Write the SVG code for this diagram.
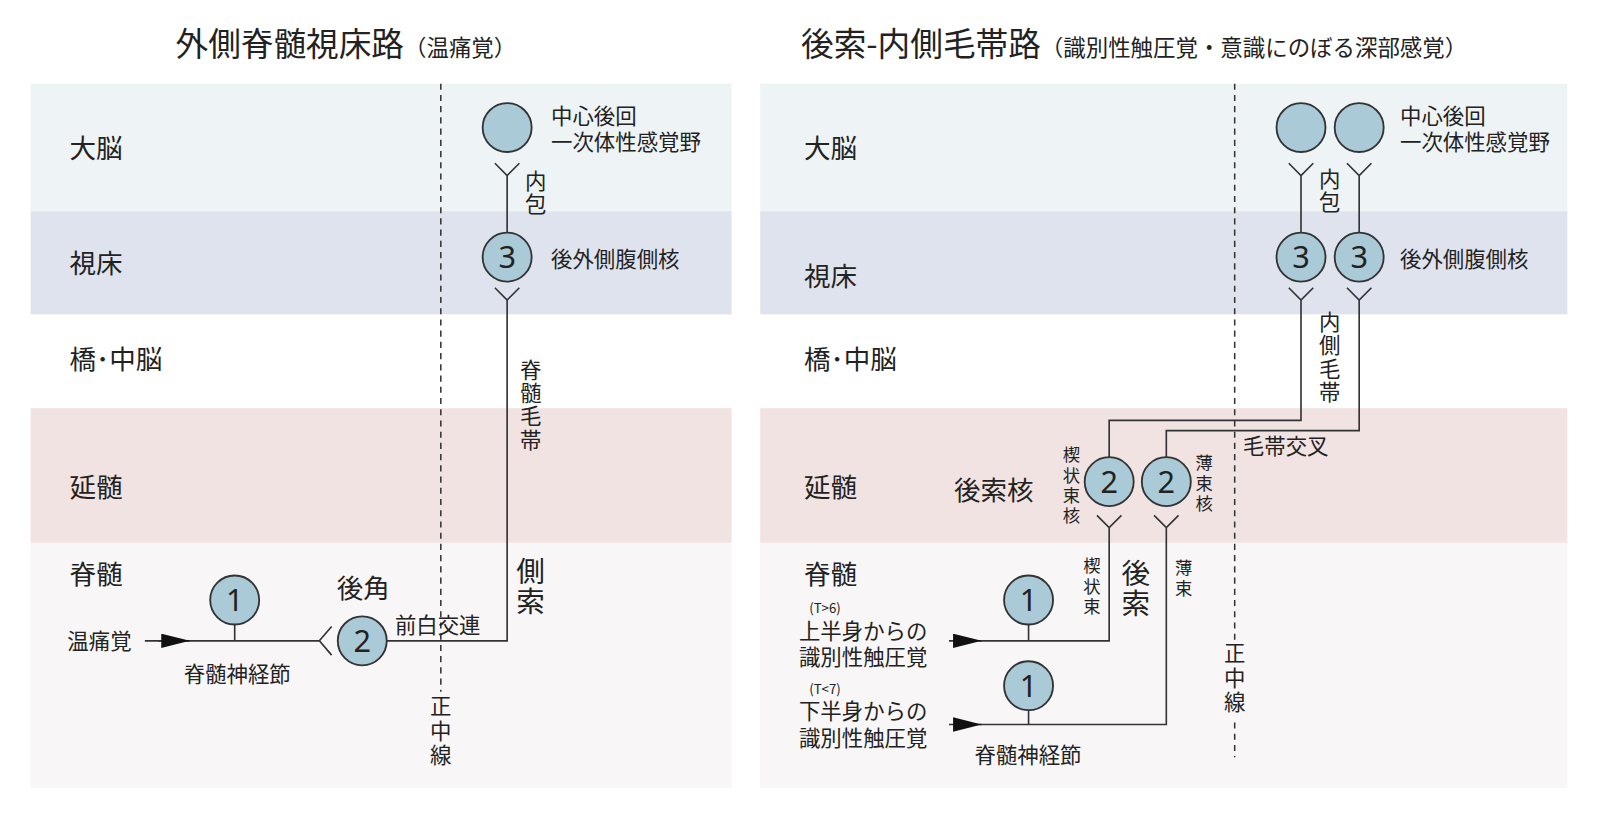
<svg xmlns="http://www.w3.org/2000/svg" width="1600" height="823" viewBox="0 0 1600 823">
<style>
text{font-family:"Noto Sans CJK JP","Noto Sans",sans-serif;fill:#222}
.c{fill:#a9cad6;stroke:#333;stroke-width:1.8}
.n{font-size:30px;text-anchor:middle;font-family:"Noto Sans","Noto Sans CJK JP",sans-serif}
.l{fill:none;stroke:#333;stroke-width:1.6}
.d{fill:none;stroke:#333;stroke-width:1.5;stroke-dasharray:6 5}
.b{font-size:26px}.m{font-size:21px}.s{font-size:17px}.t{font-size:28px}
.v{text-anchor:middle}
</style>
<defs><marker id="ar" markerWidth="30" markerHeight="14" refX="28" refY="7" orient="auto" markerUnits="userSpaceOnUse"><path d="M0,0 L28,7 L0,14 Z" fill="#111"/></marker></defs>
<rect width="1600" height="823" fill="#fff"/>
<g transform="scale(1.0204)">
<g id="bands">
<rect x="30" y="82" width="687" height="125" fill="#eef3f5"/><rect x="30" y="207" width="687" height="101" fill="#dfe3ee"/><rect x="30" y="400" width="687" height="132" fill="#f0e3e1"/><rect x="30" y="532" width="687" height="240" fill="#f8f6f6"/>
<rect x="745" y="82" width="791" height="125" fill="#eef3f5"/><rect x="745" y="207" width="791" height="101" fill="#dfe3ee"/><rect x="745" y="400" width="791" height="132" fill="#f0e3e1"/><rect x="745" y="532" width="791" height="240" fill="#f8f6f6"/>
</g>
<g id="titles">
<text x="172" y="55" style="font-size:32px">外側脊髄視床路<tspan style="font-size:22px">（温痛覚）</tspan></text>
<text x="785" y="55" style="font-size:32px">後索-内側毛帯路<tspan style="font-size:22px">（識別性触圧覚・意識にのぼる深部感覚）</tspan></text>
</g>
<g id="levels" class="b">
<text x="68" y="155">大脳</text><text x="68" y="268">視床</text><text x="68" y="362">橋･中脳</text><text x="68" y="487">延髄</text><text x="68" y="572">脊髄</text>
<text x="788" y="155">大脳</text><text x="788" y="280">視床</text><text x="788" y="362">橋･中脳</text><text x="788" y="487">延髄</text><text x="788" y="572">脊髄</text>
</g>
<g id="connectors">
<line class="d" x1="432" y1="82" x2="432" y2="678"/>
<line class="d" x1="1210" y1="82" x2="1210" y2="628"/><line class="d" x1="1210" y1="708" x2="1210" y2="742"/>
<path class="l" d="M485,160 L497,172 L509,160 M497,172 V228 M485,282 L497,294 L509,282 M497,294 V628 H379 M325,614 L313,628 L325,642 M313,628 H155 M230,612 V628"/>
<line class="l" x1="142" y1="628" x2="186" y2="628" marker-end="url(#ar)"/>
<path class="l" d="M1263,160 L1275,172 L1287,160 M1275,172 V228 M1320,160 L1332,172 L1344,160 M1332,172 V228 M1263,282 L1275,294 L1287,282 M1275,294 V412 H1087 V448 M1320,282 L1332,294 L1344,282 M1332,294 V422 H1143 V448 M1075,505 L1087,517 L1099,505 M1087,517 V628 H960 M1131,505 L1143,517 L1155,505 M1143,517 V710 H960 M1008,612 V628 M1008,696 V710"/>
<line class="l" x1="930" y1="628" x2="962" y2="628" marker-end="url(#ar)"/>
<line class="l" x1="930" y1="710" x2="962" y2="710" marker-end="url(#ar)"/>
</g>
<g id="n-l-cortex"><circle class="c" cx="497" cy="125" r="24"/></g>
<g id="n-l-3"><circle class="c" cx="497" cy="252" r="24"/><text class="n" x="497" y="263">3</text></g>
<g id="n-l-2"><circle class="c" cx="355" cy="628" r="24"/><text class="n" x="355" y="639">2</text></g>
<g id="n-l-1"><circle class="c" cx="230" cy="588" r="24"/><text class="n" x="230" y="599">1</text></g>
<g id="n-r-cortex"><circle class="c" cx="1275" cy="125" r="24"/><circle class="c" cx="1332" cy="125" r="24"/></g>
<g id="n-r-3"><circle class="c" cx="1275" cy="252" r="24"/><text class="n" x="1275" y="263">3</text><circle class="c" cx="1332" cy="252" r="24"/><text class="n" x="1332" y="263">3</text></g>
<g id="n-r-2"><circle class="c" cx="1087" cy="472" r="24"/><text class="n" x="1087" y="483">2</text><circle class="c" cx="1143" cy="472" r="24"/><text class="n" x="1143" y="483">2</text></g>
<g id="n-r-1"><circle class="c" cx="1008" cy="588" r="24"/><text class="n" x="1008" y="599">1</text><circle class="c" cx="1008" cy="672" r="24"/><text class="n" x="1008" y="683">1</text></g>
<g id="labels">
<text class="m" x="540" y="122">中心後回</text><text class="m" x="540" y="147">一次体性感覚野</text>
<g class="m v"><text x="525" y="185">内</text><text x="525" y="208">包</text></g>
<text class="m" x="540" y="262">後外側腹側核</text>
<g class="m v"><text x="520" y="370">脊</text><text x="520" y="393">髄</text><text x="520" y="416">毛</text><text x="520" y="439">帯</text></g>
<g class="t v"><text x="520" y="570">側</text><text x="520" y="600">索</text></g>
<text class="b" x="330" y="586">後角</text>
<text class="m" x="387" y="620">前白交連</text>
<text class="m" x="66" y="636">温痛覚</text>
<text class="m" x="180" y="668">脊髄神経節</text>
<g class="m v"><text x="432" y="700">正</text><text x="432" y="724">中</text><text x="432" y="748">線</text></g>

<text class="m" x="1372" y="122">中心後回</text><text class="m" x="1372" y="147">一次体性感覚野</text>
<g class="m v"><text x="1303" y="183">内</text><text x="1303" y="206">包</text></g>
<text class="m" x="1372" y="262">後外側腹側核</text>
<g class="m v"><text x="1303" y="323">内</text><text x="1303" y="346">側</text><text x="1303" y="369">毛</text><text x="1303" y="392">帯</text></g>
<text class="m" x="1218" y="445">毛帯交叉</text>
<g class="s v"><text x="1050" y="452">楔</text><text x="1050" y="472">状</text><text x="1050" y="492">束</text><text x="1050" y="512">核</text></g>
<g class="s v"><text x="1180" y="460">薄</text><text x="1180" y="480">束</text><text x="1180" y="500">核</text></g>
<text class="b" x="935" y="490">後索核</text>
<g class="s v"><text x="1070" y="561">楔</text><text x="1070" y="581">状</text><text x="1070" y="601">束</text></g>
<g class="t v"><text x="1113" y="572">後</text><text x="1113" y="602">索</text></g>
<g class="s v"><text x="1160" y="563">薄</text><text x="1160" y="583">束</text></g>
<g class="m v"><text x="1210" y="648">正</text><text x="1210" y="672">中</text><text x="1210" y="696">線</text></g>
<text x="793" y="601" style="font-size:13px">(T&gt;6)</text>
<text class="m" x="783" y="626">上半身からの</text><text class="m" x="783" y="652">識別性触圧覚</text>
<text x="793" y="680" style="font-size:13px">(T&lt;7)</text>
<text class="m" x="783" y="705">下半身からの</text><text class="m" x="783" y="731">識別性触圧覚</text>
<text class="m" x="955" y="748">脊髄神経節</text>
</g>
</g>
</svg>
